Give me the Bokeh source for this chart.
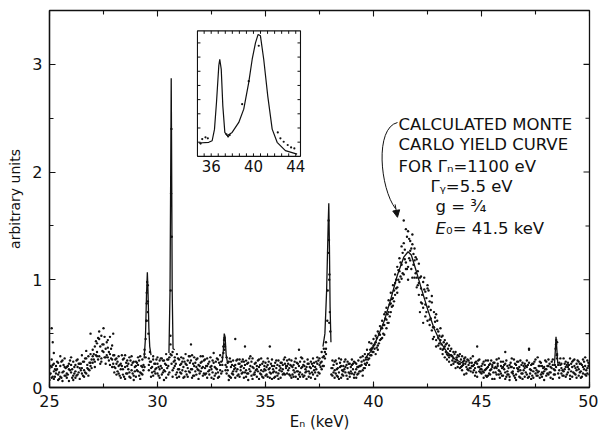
import math
from bokeh.plotting import figure
from bokeh.models import Range1d, SingleIntervalTicker, Arrow, NormalHead
from bokeh.core.properties import value
from bokeh.embed import file_html
from bokeh.resources import INLINE

NA = float("nan")

# ---------------- data ----------------
# channel energies, 0.1 keV grid
energy_keV = [
    25.0, 25.1, 25.2, 25.3, 25.4, 25.5, 25.6, 25.7, 25.8, 25.9,
    26.0, 26.1, 26.2, 26.3, 26.4, 26.5, 26.6, 26.7, 26.8, 26.9,
    27.0, 27.1, 27.2, 27.3, 27.4, 27.5, 27.6, 27.7, 27.8, 27.9,
    28.0, 28.1, 28.2, 28.3, 28.4, 28.5, 28.6, 28.7, 28.8, 28.9,
    29.0, 29.1, 29.2, 29.3, 29.4, 29.5, 29.6, 29.7, 29.8, 29.9,
    30.0, 30.1, 30.2, 30.3, 30.4, 30.5, 30.6, 30.7, 30.8, 30.9,
    31.0, 31.1, 31.2, 31.3, 31.4, 31.5, 31.6, 31.7, 31.8, 31.9,
    32.0, 32.1, 32.2, 32.3, 32.4, 32.5, 32.6, 32.7, 32.8, 32.9,
    33.0, 33.1, 33.2, 33.3, 33.4, 33.5, 33.6, 33.7, 33.8, 33.9,
    34.0, 34.1, 34.2, 34.3, 34.4, 34.5, 34.6, 34.7, 34.8, 34.9,
    35.0, 35.1, 35.2, 35.3, 35.4, 35.5, 35.6, 35.7, 35.8, 35.9,
    36.0, 36.1, 36.2, 36.3, 36.4, 36.5, 36.6, 36.7, 36.8, 36.9,
    37.0, 37.1, 37.2, 37.3, 37.4, 37.5, 37.6, 37.7, 37.8, 37.9,
    38.0, 38.1, 38.2, 38.3, 38.4, 38.5, 38.6, 38.7, 38.8, 38.9,
    39.0, 39.1, 39.2, 39.3, 39.4, 39.5, 39.6, 39.7, 39.8, 39.9,
    40.0, 40.1, 40.2, 40.3, 40.4, 40.5, 40.6, 40.7, 40.8, 40.9,
    41.0, 41.1, 41.2, 41.3, 41.4, 41.5, 41.6, 41.7, 41.8, 41.9,
    42.0, 42.1, 42.2, 42.3, 42.4, 42.5, 42.6, 42.7, 42.8, 42.9,
    43.0, 43.1, 43.2, 43.3, 43.4, 43.5, 43.6, 43.7, 43.8, 43.9,
    44.0, 44.1, 44.2, 44.3, 44.4, 44.5, 44.6, 44.7, 44.8, 44.9,
    45.0, 45.1, 45.2, 45.3, 45.4, 45.5, 45.6, 45.7, 45.8, 45.9,
    46.0, 46.1, 46.2, 46.3, 46.4, 46.5, 46.6, 46.7, 46.8, 46.9,
    47.0, 47.1, 47.2, 47.3, 47.4, 47.5, 47.6, 47.7, 47.8, 47.9,
    48.0, 48.1, 48.2, 48.3, 48.4, 48.5, 48.6, 48.7, 48.8, 48.9,
    49.0, 49.1, 49.2, 49.3, 49.4, 49.5, 49.6, 49.7, 49.8, 49.9,
    50.0,
]

counts_a1 = [
    .12, .19, .08, .16, .23, .10, .14, .27, .09, .17,
    .21, .11, .15, .26, .08, .18, .24, .13, .29, .20,
    .35, .24, .41, .29, .48, .33, .22, .44, .31, .26,
    .19, .27, .13, .22, .17, .08, .25, .14, .21, .11,
    .24, .15, .29, .12, .31, .62, .27, .18, .26, .13,
    .22, .09, .27, .16, .31, .12, .48, .33, .20, .14,
    .26, .13, .19, .31, .10, .23, .17, .28, .12, .21,
    .15, .29, .18, .09, .24, .20, .32, .13, .26, .16,
    .21, .40, .28, .11, .19, .25, .09, .17, .22, .13,
    .18, .10, .23, .15, .27, .12, .20, .08, .16, .24,
    .11, .21, .14, .26, .09, .18, .13, .23, .17, .28,
    .20, .12, .25, .16, .10, .22, .14, .27, .11, .19,
    .15, .24, .12, .19, .28, .21, .33, .29, .42, NA,
    .52, .18, .09, .22, .14, .26, .11, .19, .24, .13,
    .21, .12, .17, .25, .15, .29, .22, .35, .27, .41,
    .33, .48, .39, .57, .46, .68, .55, .81, .70, .95,
    .86, 1.12, .98, 1.31, 1.05, 1.47, 1.12, 1.36, 1.02, 1.29,
    .93, 1.15, .79, .98, .66, .92, .58, .79, .47, .68,
    .52, .36, .48, .28, .41, .24, .36, .22, .33, .19,
    .31, .16, .27, .13, .25, .18, .29, .11, .22, .15,
    .20, .09, .17, .25, .12, .21, .08, .18, .27, .13,
    .11, .22, .15, .07, .19, .26, .12, .17, .09, .23,
    .18, .25, .10, .16, .22, .13, .28, .09, .20, .15,
    .24, .12, .19, .08, .21, .27, .16, .22, .11, .19,
    .14, .27, .10, .20, .16, .24, .09, .19, .28, .13,
    .18,
]

counts_a2 = [
    .18, .09, .22, .13, .07, .20, .25, .11, .19, .06,
    .14, .24, .09, .19, .22, .13, .10, .27, .17, .31,
    .23, .38, .29, .52, .27, .40, .36, .28, .47, .19,
    .30, .12, .20, .09, .26, .19, .13, .28, .16, .24,
    .10, .21, .14, .26, .19, .88, .16, .24, .11, .22,
    .13, .25, .18, .07, .21, .26, .31, .16, .28, .09,
    .17, .28, .09, .22, .25, .14, .30, .11, .19, .08,
    .23, .11, .26, .20, .12, .17, .08, .24, .14, .30,
    .15, .46, .13, .24, .09, .15, .21, .11, .26, .20,
    .09, .25, .13, .20, .08, .22, .17, .26, .12, .15,
    .23, .10, .18, .08, .20, .14, .25, .09, .21, .12,
    .13, .26, .09, .21, .18, .08, .24, .12, .20, .15,
    .22, .09, .20, .14, .11, .27, .17, .36, .31, NA,
    NA, .25, .16, .11, .27, .09, .20, .14, .08, .22,
    .13, .24, .09, .19, .28, .16, .31, .23, .42, .30,
    .45, .31, .52, .44, .62, .49, .74, .60, .88, .76,
    1.05, .88, 1.20, 1.01, 1.34, 1.16, 1.45, 1.18, 1.33, 1.02,
    1.19, .86, 1.03, .74, .89, .62, .80, .53, .70, .44,
    .39, .55, .31, .44, .26, .39, .21, .33, .18, .30,
    .18, .29, .12, .24, .16, .27, .14, .23, .10, .26,
    .13, .24, .11, .19, .22, .08, .18, .26, .12, .20,
    .24, .14, .20, .10, .27, .11, .21, .15, .25, .08,
    .10, .19, .23, .08, .15, .26, .11, .20, .14, .07,
    .17, .26, .09, .21, .16, .42, .23, .13, .27, .10,
    .23, .11, .19, .26, .09, .17, .22, .13, .20, .25,
    .12,
]

counts_a3 = [
    .07, .26, .15, .20, .12, .29, .06, .19, .13, .22,
    .28, .07, .21, .12, .18, .30, .16, .34, .11, .23,
    .29, .19, .33, .45, .24, .55, .28, .37, .21, .39,
    .14, .22, .29, .17, .12, .30, .20, .10, .29, .07,
    .20, .28, .08, .19, .35, .78, .21, .10, .29, .17,
    .28, .17, .12, .25, .09, .20, .40, .10, .25, .31,
    .10, .22, .27, .15, .18, .29, .09, .20, .26, .16,
    .29, .19, .12, .27, .16, .09, .23, .18, .09, .21,
    .28, .35, .19, .07, .24, .12, .18, .26, .10, .24,
    .24, .16, .07, .29, .19, .14, .10, .19, .27, .09,
    .16, .27, .09, .20, .15, .25, .08, .18, .12, .22,
    .25, .18, .20, .10, .27, .15, .10, .19, .24, .08,
    .10, .18, .27, .08, .22, .13, .24, .20, .36, NA,
    NA, .11, .24, .17, .08, .20, .15, .26, .18, .10,
    .26, .09, .22, .13, .20, .11, .18, .28, .21, .36,
    .39, .42, .35, .49, .55, .58, .63, .70, .78, .83,
    .97, .93, 1.08, 1.14, 1.55, 1.10, 1.00, 1.27, 1.42, 1.18,
    1.02, .97, .92, .60, .77, .95, .63, .85, .56, .38,
    .46, .44, .35, .38, .31, .28, .30, .27, .24, .23,
    .22, .20, .25, .19, .21, .15, .20, .18, .38, .19,
    .17, .14, .25, .11, .16, .19, .23, .12, .16, .24,
    .19, .08, .12, .21, .14, .18, .07, .24, .16, .13,
    .22, .12, .35, .21, .09, .18, .14, .24, .10, .19,
    .11, .20, .14, .26, .12, .31, .09, .18, .15, .24,
    .19, .08, .24, .13, .22, .11, .15, .26, .12, .18,
    .21,
]

# channel energies on the in-between grid (x.x5 keV)
energy_keV_mid = [
    25.05, 25.15, 25.25, 25.35, 25.45, 25.55, 25.65, 25.75, 25.85, 25.95,
    26.05, 26.15, 26.25, 26.35, 26.45, 26.55, 26.65, 26.75, 26.85, 26.95,
    27.05, 27.15, 27.25, 27.35, 27.45, 27.55, 27.65, 27.75, 27.85, 27.95,
    28.05, 28.15, 28.25, 28.35, 28.45, 28.55, 28.65, 28.75, 28.85, 28.95,
    29.05, 29.15, 29.25, 29.35, 29.45, 29.55, 29.65, 29.75, 29.85, 29.95,
    30.05, 30.15, 30.25, 30.35, 30.45, 30.55, 30.65, 30.75, 30.85, 30.95,
    31.05, 31.15, 31.25, 31.35, 31.45, 31.55, 31.65, 31.75, 31.85, 31.95,
    32.05, 32.15, 32.25, 32.35, 32.45, 32.55, 32.65, 32.75, 32.85, 32.95,
    33.05, 33.15, 33.25, 33.35, 33.45, 33.55, 33.65, 33.75, 33.85, 33.95,
    34.05, 34.15, 34.25, 34.35, 34.45, 34.55, 34.65, 34.75, 34.85, 34.95,
    35.05, 35.15, 35.25, 35.35, 35.45, 35.55, 35.65, 35.75, 35.85, 35.95,
    36.05, 36.15, 36.25, 36.35, 36.45, 36.55, 36.65, 36.75, 36.85, 36.95,
    37.05, 37.15, 37.25, 37.35, 37.45, 37.55, 37.65, 37.75, 37.85, 37.95,
    38.05, 38.15, 38.25, 38.35, 38.45, 38.55, 38.65, 38.75, 38.85, 38.95,
    39.05, 39.15, 39.25, 39.35, 39.45, 39.55, 39.65, 39.75, 39.85, 39.95,
    40.05, 40.15, 40.25, 40.35, 40.45, 40.55, 40.65, 40.75, 40.85, 40.95,
    41.05, 41.15, 41.25, 41.35, 41.45, 41.55, 41.65, 41.75, 41.85, 41.95,
    42.05, 42.15, 42.25, 42.35, 42.45, 42.55, 42.65, 42.75, 42.85, 42.95,
    43.05, 43.15, 43.25, 43.35, 43.45, 43.55, 43.65, 43.75, 43.85, 43.95,
    44.05, 44.15, 44.25, 44.35, 44.45, 44.55, 44.65, 44.75, 44.85, 44.95,
    45.05, 45.15, 45.25, 45.35, 45.45, 45.55, 45.65, 45.75, 45.85, 45.95,
    46.05, 46.15, 46.25, 46.35, 46.45, 46.55, 46.65, 46.75, 46.85, 46.95,
    47.05, 47.15, 47.25, 47.35, 47.45, 47.55, 47.65, 47.75, 47.85, 47.95,
    48.05, 48.15, 48.25, 48.35, 48.45, 48.55, 48.65, 48.75, 48.85, 48.95,
    49.05, 49.15, 49.25, 49.35, 49.45, 49.55, 49.65, 49.75, 49.85, 49.95,
]

counts_b1 = [
    .13, .21, .10, .17, .08, .24, .15, .11, .20, .16,
    .09, .19, .25, .14, .22, .11, .27, .18, .23, .26,
    .31, .43, .26, .38, .34, .47, .30, .25, .36, .22,
    .26, .15, .21, .30, .10, .23, .17, .25, .13, .19,
    .16, .25, .13, .21, .45, .95, .33, .14, .22, .18,
    .19, .27, .14, .22, .18, .28, .22, .24, .12, .27,
    .21, .16, .24, .12, .29, .17, .22, .15, .27, .13,
    .18, .25, .13, .22, .28, .14, .19, .27, .10, .24,
    .32, .21, .16, .27, .13, .20, .15, .22, .19, .14,
    .21, .13, .27, .11, .18, .23, .15, .21, .10, .20,
    .19, .24, .13, .17, .23, .11, .20, .15, .26, .18,
    .16, .21, .12, .24, .15, .20, .28, .10, .17, .22,
    .19, .14, .23, .17, .25, .19, .28, .33, NA, 1.00,
    .12, .21, .13, .18, .23, .12, .17, .21, .14, .19,
    .17, .23, .12, .20, .24, .18, .26, .31, .30, .37,
    .40, .37, .50, .45, .58, .64, .68, .77, .82, .90,
    1.00, 1.09, 1.03, 1.25, 1.19, 1.40, 1.20, 1.10, 1.24, 1.06,
    1.08, .70, .86, 1.02, .83, .90, .72, .45, .61, .62,
    .48, .40, .42, .33, .36, .30, .25, .31, .28, .22,
    .26, .21, .28, .17, .23, .20, .16, .24, .19, .14,
    .22, .16, .10, .21, .17, .23, .14, .20, .09, .18,
    .17, .25, .12, .19, .13, .22, .18, .10, .21, .16,
    .14, .21, .17, .11, .24, .16, .20, .12, .18, .25,
    .20, .14, .24, .17, .40, .13, .21, .16, .22, .12,
    .17, .22, .14, .18, .25, .14, .21, .17, .11, .23,
]

counts_b2 = [
    .20, .10, .17, .24, .14, .09, .21, .18, .12, .25,
    .17, .13, .11, .22, .16, .24, .14, .21, .16, .18,
    .26, .30, .46, .22, .40, .28, .42, .33, .27, .30,
    .18, .24, .11, .20, .27, .13, .22, .09, .23, .15,
    .23, .11, .20, .16, .28, .70, .24, .19, .15, .26,
    .11, .20, .25, .15, .26, .14, .30, .18, .22, .17,
    .14, .24, .10, .21, .15, .25, .11, .23, .17, .20,
    .24, .13, .20, .15, .19, .25, .11, .17, .23, .13,
    .38, .16, .23, .10, .21, .17, .25, .12, .16, .26,
    .14, .22, .17, .24, .12, .16, .25, .13, .22, .17,
    .12, .17, .22, .14, .10, .21, .16, .23, .13, .20,
    .22, .11, .19, .14, .23, .12, .18, .21, .14, .26,
    .13, .22, .16, .24, .14, .23, .20, .27, NA, .60,
    .18, .14, .25, .10, .19, .16, .24, .11, .22, .15,
    .22, .14, .19, .15, .21, .25, .21, .26, .35, .33,
    .36, .46, .41, .55, .50, .70, .60, .66, .75, .80,
    .92, 1.00, 1.16, 1.06, 1.28, 1.10, 1.38, 1.29, 1.14, 1.21,
    .95, 1.02, .78, .91, .70, .75, .64, .56, .65, .54,
    .41, .47, .36, .40, .30, .34, .29, .24, .26, .29,
    .19, .24, .22, .26, .18, .23, .21, .14, .25, .17,
    .15, .21, .18, .13, .25, .14, .19, .22, .15, .11,
    .21, .10, .18, .23, .15, .09, .24, .19, .13, .20,
    .20, .09, .13, .22, .18, .11, .15, .23, .13, .17,
    .13, .22, .18, .12, .19, .21, .27, .11, .17, .21,
    .21, .15, .25, .12, .19, .22, .10, .24, .16, .20,
]

# points sitting on the narrow peaks, plus a few strays
peak_pts_keV = [29.48, 29.52, 29.55, 29.58, 30.61, 30.63, 30.645, 30.66,
                33.08, 33.12, 37.86, 37.88, 37.90, 37.92, 37.94, 37.96, 37.98,
                48.43, 48.46, 48.49, 25.10, 25.15, 25.20, 26.90, 33.60, 35.20,
                27.95, 31.55, 34.05, 36.55, 47.20, 46.10]
peak_pts_counts = [0.62, 0.98, 0.80, 0.50, 0.90, 1.80, 2.40, 1.40,
                   0.44, 0.38, 0.62, 0.90, 1.25, 1.55, 1.37, 1.05, 0.70,
                   0.36, 0.44, 0.30, 0.55, 0.42, 0.32, 0.50, 0.45, 0.38,
                   0.50, 0.40, 0.38, 0.35, 0.36, 0.33]

# calculated Monte Carlo yield curve (segments around each resonance)
mc_curve_keV = [29.38, 29.44, 29.49, 29.53, 29.56, 29.60, 29.64, 29.70, NA,
                30.53, 30.58, 30.62, 30.635, 30.65, 30.68, 30.72, 30.80, NA,
                33.00, 33.05, 33.09, 33.13, 33.18, 33.25, NA,
                37.66, 37.75, 37.83, 37.90, 37.93, 37.96, 37.99, 38.03, NA,
                39.6, 39.9, 40.2, 40.5, 40.8, 41.1, 41.4, 41.6, 41.75, 41.95,
                42.2, 42.5, 42.8, 43.1, 43.4, 43.8, 44.2, NA,
                48.38, 48.42, 48.45, 48.48, 48.53]
mc_curve_counts = [0.27, 0.45, 0.85, 1.07, 0.90, 0.55, 0.38, 0.30, NA,
                   0.32, 0.90, 2.30, 2.87, 2.30, 0.90, 0.36, 0.35, NA,
                   0.24, 0.35, 0.50, 0.47, 0.30, 0.22, NA,
                   0.38, 0.50, 0.90, 1.50, 1.71, 1.30, 0.75, 0.42, NA,
                   0.27, 0.34, 0.47, 0.62, 0.82, 1.04, 1.21, 1.26, 1.23, 1.10,
                   0.93, 0.73, 0.55, 0.42, 0.33, 0.26, 0.22, NA,
                   0.22, 0.35, 0.47, 0.38, 0.22]

# inset spectrum (arbitrary vertical units)
inset_curve_keV = [34.83, 35.77, 36.09, 36.31, 36.50, 36.72, 36.81, 36.95, 37.10,
                   37.29, 37.51, 37.98, 38.61, 39.08, 39.55, 39.88, 40.19, 40.44,
                   40.66, 40.97, 41.35, 41.77, 42.24, 43.02, 44.13]
inset_curve_counts = [0.094, 0.099, 0.11, 0.19, 0.38, 0.64, 0.685, 0.615, 0.356,
                      0.169, 0.145, 0.169, 0.239, 0.333, 0.52, 0.685, 0.80, 0.86,
                      0.85, 0.685, 0.427, 0.192, 0.099, 0.04, 0.016]
inset_pts_keV = [35.00, 35.15, 35.46, 35.68, 37.45, 37.60, 37.75, 38.93, 39.55,
                 40.50, 42.30, 42.55, 42.86, 43.24, 43.56, 43.87]
inset_pts_counts = [0.09, 0.122, 0.134, 0.127, 0.155, 0.14, 0.15, 0.368, 0.53,
                    0.78, 0.169, 0.127, 0.103, 0.08, 0.063, 0.056]
inset_tick_values = [36, 40, 44]
inset_tick_labels = ["36", "40", "44"]

annotation_lines = ["CALCULATED MONTE", "CARLO YIELD CURVE", "FOR \u0393\u2099=1100 eV",
                    "\u0393\u1d67=5.5 eV", "g = \u00b3\u2044\u2084", "\u2080= 41.5 keV"]

# ---------------- layout constants ----------------
X_RANGE = (25, 50)
Y_RANGE = (0, 3.5)
INSET_BOX = (31.85, 36.62, 2.146, 3.311)      # where the inset sits, main data units
INSET_X = (34.7, 44.45)
INSET_Y = (0.0, 0.885)
FONT = "DejaVu Sans"
INK = "#111111"

p = figure(width=598, height=434, x_range=Range1d(*X_RANGE), y_range=Range1d(*Y_RANGE),
           output_backend="svg", toolbar_location=None,
           min_border_left=49, min_border_right=9, min_border_top=10, min_border_bottom=47)
p.grid.visible = False
p.outline_line_color = INK
p.outline_line_width = 1.3
p.background_fill_color = "white"
p.border_fill_color = "white"


def style_axis(ax):
    ax.axis_line_color = INK
    ax.axis_line_width = 1.3
    ax.major_tick_line_color = INK
    ax.minor_tick_line_color = INK
    ax.major_tick_line_width = 1.1
    ax.minor_tick_line_width = 1.1
    ax.major_tick_in = 6
    ax.major_tick_out = 0
    ax.minor_tick_in = 4
    ax.minor_tick_out = 0
    ax.major_label_text_font = FONT
    ax.major_label_text_color = INK
    ax.major_label_text_font_size = "16px"
    ax.axis_label_text_font = FONT
    ax.axis_label_text_font_style = "normal"
    ax.axis_label_text_color = INK


xa = p.xaxis[0]
xa.ticker = SingleIntervalTicker(interval=5, num_minor_ticks=2)
style_axis(xa)
xa.major_label_standoff = 7
xa.axis_label = "E\u2099 (keV)"
xa.axis_label_text_font_size = "15px"
xa.axis_label_standoff = 3

ya = p.yaxis[0]
ya.ticker = SingleIntervalTicker(interval=1, num_minor_ticks=2)
style_axis(ya)
ya.major_label_standoff = 7
ya.axis_label = "arbitrary units"
ya.axis_label_text_font_size = "14px"
ya.axis_label_standoff = 6

# ticks on the top and right frame edges (inward)
top_major = [X_RANGE[0] + 5 * k for k in range(6)]
top_minor = [X_RANGE[0] + 2.5 + 5 * k for k in range(5)]
right_major = [float(k) for k in range(4)]
right_minor = [0.5 + k for k in range(4)]
p.ray(x=top_major, y=[Y_RANGE[1]] * len(top_major), length=6, angle=-math.pi / 2,
      length_units="screen", line_color=INK, line_width=1.1)
p.ray(x=top_minor, y=[Y_RANGE[1]] * len(top_minor), length=4, angle=-math.pi / 2,
      length_units="screen", line_color=INK, line_width=1.1)
p.ray(x=[X_RANGE[1]] * len(right_major), y=right_major, length=6, angle=math.pi,
      length_units="screen", line_color=INK, line_width=1.1)
p.ray(x=[X_RANGE[1]] * len(right_minor), y=right_minor, length=4, angle=math.pi,
      length_units="screen", line_color=INK, line_width=1.1)

# ---------------- main data ----------------
for series in (counts_a1, counts_a2, counts_a3):
    p.scatter(energy_keV, series, marker="circle", size=2.4, fill_color=INK, line_color=None)
for series in (counts_b1, counts_b2):
    p.scatter(energy_keV_mid, series, marker="circle", size=2.4, fill_color=INK, line_color=None)
p.scatter(peak_pts_keV, peak_pts_counts, marker="circle", size=2.4, fill_color=INK, line_color=None)
p.line(mc_curve_keV, mc_curve_counts, line_color=INK, line_width=1.3)

# ---------------- inset, drawn through its own ranges ----------------
sx = (INSET_X[1] - INSET_X[0]) / (INSET_BOX[1] - INSET_BOX[0])
sy = (INSET_Y[1] - INSET_Y[0]) / (INSET_BOX[3] - INSET_BOX[2])
p.extra_x_ranges = {"inset": Range1d(INSET_X[0] - (INSET_BOX[0] - X_RANGE[0]) * sx,
                                      INSET_X[1] + (X_RANGE[1] - INSET_BOX[1]) * sx)}
p.extra_y_ranges = {"inset": Range1d(INSET_Y[0] - (INSET_BOX[2] - Y_RANGE[0]) * sy,
                                      INSET_Y[1] + (Y_RANGE[1] - INSET_BOX[3]) * sy)}
kw = dict(x_range_name="inset", y_range_name="inset")
p.quad(left=[INSET_X[0]], right=[INSET_X[1]], bottom=[INSET_Y[0]], top=[INSET_Y[1]],
       fill_color="white", line_color=INK, line_width=1.1, **kw)
inset_xticks = [35 + (2 * k + 1) / 3 for k in range(14)]
inset_yticks = [0.1 * k for k in range(1, 9)]
p.ray(x=inset_xticks, y=[INSET_Y[0]] * len(inset_xticks), length=3, angle=math.pi / 2,
      length_units="screen", line_color=INK, line_width=1, **kw)
p.ray(x=inset_xticks, y=[INSET_Y[1]] * len(inset_xticks), length=3, angle=-math.pi / 2,
      length_units="screen", line_color=INK, line_width=1, **kw)
p.ray(x=[INSET_X[0]] * len(inset_yticks), y=inset_yticks, length=3, angle=0,
      length_units="screen", line_color=INK, line_width=1, **kw)
p.ray(x=[INSET_X[1]] * len(inset_yticks), y=inset_yticks, length=3, angle=math.pi,
      length_units="screen", line_color=INK, line_width=1, **kw)
p.line(inset_curve_keV, inset_curve_counts, line_color=INK, line_width=1.2, **kw)
p.scatter(inset_pts_keV, inset_pts_counts, marker="circle", size=2.2, fill_color=INK,
          line_color=None, **kw)
p.text(x=inset_tick_values, y=[INSET_Y[0]] * 3, text=inset_tick_labels, y_offset=4,
       text_align="center", text_baseline="top", text_font=value(FONT),
       text_font_size="15px", text_color=INK, **kw)

# ---------------- annotation ----------------
p.text(x=[41.16, 41.16, 41.16, 42.64, 42.87, 43.36],
       y=[2.442, 2.255, 2.05, 1.864, 1.678, 1.48],
       text=annotation_lines, text_align="left", text_baseline="middle",
       text_font=value(FONT), text_font_size="16.5px", text_color=INK)
p.text(x=[42.87], y=[1.48], text=["E"], text_align="left", text_baseline="middle",
       text_font=value(FONT), text_font_style="italic", text_font_size="16.5px", text_color=INK)
p.bezier(x0=[41.11], y0=[2.46], x1=[41.02], y1=[1.66], cx0=[40.05], cy0=[2.41],
         cx1=[40.30], cy1=[1.85], line_color=INK, line_width=1)
p.add_layout(Arrow(end=NormalHead(size=7, fill_color=INK, line_color=INK, line_width=1),
                   x_start=41.0, y_start=1.70, x_end=41.11, y_end=1.58,
                   line_color=INK, line_width=1))

open("out.html", "w").write(file_html(p, INLINE))
